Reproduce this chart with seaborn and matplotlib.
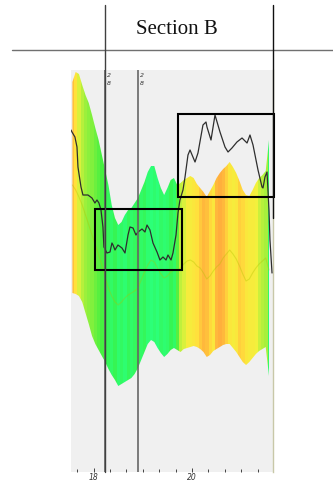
import numpy as np
import seaborn as sns
import matplotlib
matplotlib.use('Agg')
import matplotlib.pyplot as plt
from matplotlib.colors import LinearSegmentedColormap
from matplotlib.patches import Rectangle
from matplotlib.lines import Line2D

# minutes after 17:00 (band samples, every 4 min)
band_t = [34, 38, 42, 46, 50, 54, 58, 62, 66, 70,
          74, 78, 82, 86, 90, 94, 98, 102, 106, 110,
          114, 118, 122, 126, 130, 134, 138, 142, 146, 150,
          154, 158, 162, 166, 170, 174, 178, 182, 186, 190,
          194, 198, 202, 206, 210, 214, 218, 222, 226, 230,
          234, 238, 242, 246, 250, 254, 258, 262, 266, 270, 274]
band_hi = [97, 99.5, 99, 96.25, 93.75, 91.75, 88.75, 85.5, 82.5, 78.75,
           75, 71.25, 66.25, 63, 61.25, 62, 63.75, 65, 65.5, 66.75,
           68, 70, 72, 74.5, 76, 76, 73, 70.5, 68.75, 70.5,
           72.5, 73, 71.25, 71.75, 72.5, 73, 73.5, 73, 71.5, 70.5,
           69.5, 68.25, 69.75, 71.25, 73, 74.25, 75.25, 76, 77, 75.75,
           74.25, 72.25, 70, 68.75, 68.5, 70, 71.75, 73, 73.75, 74.75, 82.5]
band_lo = [44.25, 44, 43.5, 42, 39.25, 36.5, 33.5, 31.5, 30, 28.5,
           27, 25.25, 23.75, 22.5, 21, 21.5, 22, 22.5, 23, 24,
           25.5, 27.5, 29.5, 31.5, 32.5, 32, 30.5, 29.25, 28.25, 29,
           30, 30.5, 30, 29.5, 30.25, 30.5, 30.75, 31, 30.75, 30.25,
           29.5, 28.25, 28.75, 29.75, 30.25, 30.75, 31.25, 31.5, 31.5, 30.5,
           29.5, 28.25, 27, 26.25, 27, 28, 29, 29.75, 30.25, 30.75, 23.5]
band_mean = [71.25, 70, 68.25, 66.25, 63.75, 61.25, 58.75, 56.25, 53.75, 51.25,
             48, 45.5, 43.5, 42, 41.25, 42, 43, 43.75, 44.25, 44.75,
             45.5, 47.5, 49.5, 51.25, 52.5, 52, 50.5, 49, 48, 48.5,
             49.5, 50, 50, 50.5, 51.5, 52.25, 52.5, 52, 51, 50.5,
             49.25, 47.75, 48.5, 49.75, 50.75, 51.5, 53, 54, 55, 54,
             52.75, 51, 49, 47.25, 47.75, 49.25, 50.5, 51.5, 52.25, 53, 50]
# 0 = green ... 0.5 = yellow ... 1 = orange
band_c = [0.85, 0.65, 0.45, 0.38, 0.33, 0.3, 0.28, 0.24, 0.2, 0.17,
          0.12, 0.08, 0.05, 0.1, 0.03, 0.06, 0.02, 0.08, 0.04, 0.07,
          0.1, 0.05, 0.08, 0.02, 0.0, 0.03, 0.0, 0.05, 0.02, 0.04,
          0.1, 0.05, 0.2, 0.4, 0.45, 0.55, 0.55, 0.6, 0.65, 0.8,
          0.9, 0.85, 0.7, 0.6, 0.9, 0.95, 0.9, 0.75, 0.6, 0.55,
          0.6, 0.75, 0.7, 0.6, 0.55, 0.55, 0.5, 0.42, 0.38, 0.35, 0.05]

# dark trace
trace_t = [32.3, 33.5, 37.1, 39.6, 40.8, 44.5, 46.9, 53.0, 57.9, 61.5,
           64.0, 66.4, 68.9, 71.3, 72.5, 76.2, 79.9, 82.3, 83.6, 86.0,
           89.6, 94.5, 98.2, 101.9, 104.3, 108.0, 111.6, 114.1, 119.0, 122.6,
           125.1, 128.7, 132.4, 137.3, 140.9, 144.6, 148.3, 150.7, 154.4, 156.8,
           160.5, 162.9, 165.3, 169.0, 171.5, 175.1, 177.6, 183.7, 187.3, 193.4,
           197.1, 198.3, 203.2, 208.1, 214.2, 220.3, 224.0, 228.8, 234.9, 241.1,
           247.2, 250.8, 254.5, 260.6, 265.5, 266.7, 269.1, 271.6, 274.0, 275.2, 277.7]
trace_v = [85, 84.5, 83.25, 80.75, 75.75, 70.75, 68.75, 68.75, 68, 66.75,
           67.5, 66.75, 65, 60.75, 55.75, 54.25, 54.5, 56.75, 56.25, 55,
           56.25, 55.5, 54.25, 58.75, 60.75, 60.5, 58.75, 59.5, 60.25, 59.5,
           61.25, 60, 56.75, 54.5, 52.5, 53.25, 52.5, 53.75, 52.5, 54.25,
           58.75, 64.25, 67.5, 70, 73.25, 78.75, 80, 77, 79.25, 86.25,
           87, 85.75, 82.5, 88.75, 84.5, 80.75, 79.5, 80.5, 82, 83,
           81.75, 83.75, 81.25, 75, 70.75, 70.5, 73.25, 74.5, 65, 57.5, 49.25]

tick_major = [60, 180]
tick_labels = ['18', '20']
tick_minor = [40, 80, 100, 120, 140, 160, 200, 220, 240, 260]
marker_t = [73.8, 114.1]

sns.set_style('white')

fig = plt.figure(figsize=(3.33, 4.83), dpi=100)
ax = fig.add_axes([71/333, 11/483, 202/333, 402/483])
ax.set_facecolor('#f0f0f0')

cmap = LinearSegmentedColormap.from_list('gy', [(0, '#2cff78'), (0.15, '#3cf040'), (0.35, '#a8f03c'),
                                                (0.5, '#f2f23c'), (0.65, '#ffe23c'), (1, '#ffa83c')])

# colour strips clipped to the min/max envelope
env = ax.fill_between(band_t, band_lo, band_hi, color='none', lw=0)
im = ax.imshow(np.array(band_c)[None, :], cmap=cmap, vmin=0, vmax=1, aspect='auto',
               interpolation='nearest', extent=(band_t[0] - 2, band_t[-1] + 2, 0, 100),
               origin='lower', zorder=1)
im.set_clip_path(env.get_paths()[0], transform=ax.transData)

sns.lineplot(x=band_t, y=band_mean, color='#b0c000', alpha=0.35, lw=0.8, ax=ax, zorder=2)
sns.lineplot(x=trace_t, y=trace_v, color='#2e2e2e', lw=0.9, ax=ax, zorder=3)

for t in marker_t:
    ax.axvline(t, color='#666666', lw=1.2, zorder=4)
    ax.text(t + 1.8, 99.2, '2', fontsize=4.5, style='italic', va='top', ha='left', color='#333333')
    ax.text(t + 1.8, 97.2, '8', fontsize=4.5, style='italic', va='top', ha='left', color='#333333')

ax.add_patch(Rectangle((61.6, 50), 105.6, 15.25, fill=False, ec='black', lw=1.5, clip_on=False, zorder=5))
ax.add_patch(Rectangle((163.3, 68.2), 117.2, 20.7, fill=False, ec='black', lw=1.5, clip_on=False, zorder=5))

ax.set_xlim(32.3, 278.9)
ax.set_ylim(-0.5, 100)
ax.set_yticks([])
ax.set_xticks(tick_major)
ax.set_xticklabels(tick_labels, fontsize=5.5, style='italic', color='#333333')
ax.set_xticks(tick_minor, minor=True)
ax.tick_params(axis='x', which='major', length=3, width=0.6, direction='in', pad=1, bottom=True)
ax.tick_params(axis='x', which='minor', length=2, width=0.6, direction='in', bottom=True)
for s in ['top', 'left', 'bottom']:
    ax.spines[s].set_visible(False)
ax.spines['right'].set_color('#c8c8a8')
ax.spines['right'].set_linewidth(1.0)

# page decoration
fig.add_artist(Line2D([12/333, 1], [1 - 50/483] * 2, color='#707070', lw=1.0))
fig.add_artist(Line2D([105/333] * 2, [1 - 5/483, 11/483], color='#404040', lw=1.0))
fig.add_artist(Line2D([273/333] * 2, [1 - 5/483, 1 - 218/483], color='#101010', lw=1.0))
fig.text(177/333, 1 - 30/483, 'Section B', ha='center', va='center', fontsize=15,
         family='Liberation Serif', color='#111111')

fig.savefig('out.png', dpi=100)
